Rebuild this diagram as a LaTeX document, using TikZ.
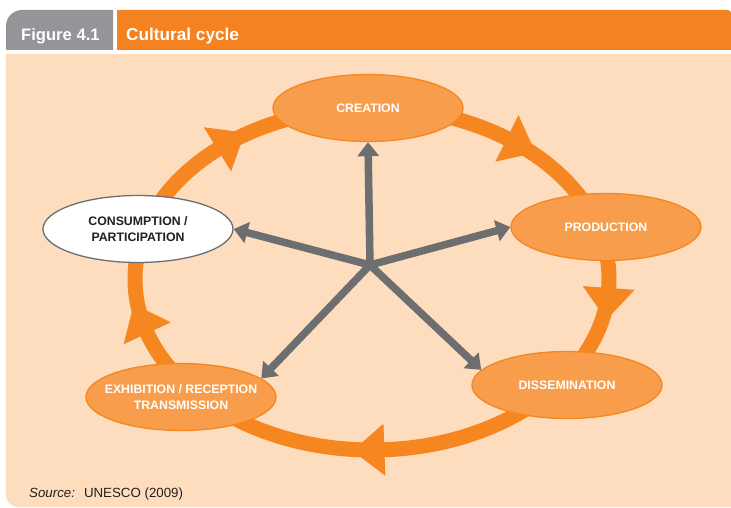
\documentclass[tikz,border=0pt]{standalone}
\usepackage{fontspec}
\setmainfont{Liberation Sans}
\usetikzlibrary{arrows.meta,shapes.geometric}
\definecolor{hdrorange}{RGB}{245,130,32}
\definecolor{hdrgray}{RGB}{147,149,152}
\definecolor{peach}{RGB}{253,221,190}
\definecolor{ringorange}{RGB}{245,134,32}
\definecolor{nodefill}{RGB}{248,157,76}
\definecolor{arrowgray}{RGB}{109,110,112}
\definecolor{txtdark}{RGB}{35,31,32}
\tikzset{
  cyclenode/.style={ellipse, minimum width=190pt, minimum height=67pt, inner xsep=-20pt, inner ysep=0pt,
    line width=1.3pt, draw=ringorange, fill=nodefill, text=white, align=center,
    font=\bfseries\fontsize{12.3}{15.5}\selectfont},
  usernode/.style={cyclenode, draw=arrowgray, fill=white, text=txtdark},
  garrow/.style={draw=arrowgray, line width=7.5pt, -{Triangle[length=14pt,width=21pt]}},
  hdrtext/.style={anchor=base west, inner sep=0pt, text=white, font=\bfseries\fontsize{17.2}{19}\selectfont}
}
\begin{document}
\begin{tikzpicture}[x=1pt,y=1pt]
\useasboundingbox (0,0) rectangle (731,-508);
% header
\fill[hdrgray] (6,-50) -- (6,-26) arc[start angle=180,end angle=90,radius=16] -- (113,-10) -- (113,-50) -- cycle;
\fill[hdrorange] (117,-50) -- (117,-10) -- (728,-10) arc[start angle=90,end angle=0,radius=3] -- (731,-50) -- cycle;
\node[hdrtext, font=\bfseries\fontsize{16.6}{19}\selectfont] (fig) at (21,-41) {Figure 4.1};
\node[hdrtext] (title) at (126,-41) {Cultural cycle};
% panel
\fill[peach] (6,-54) -- (731,-54) -- (731,-507) -- (18,-507) arc[start angle=270,end angle=180,radius=12] -- cycle;
% ring
\draw[ringorange, line width=15pt] (372,-279) ellipse [x radius=237, y radius=171];
\foreach \t in {130.7, 55.3, -3, -87, 198.5} {
  \pgfmathsetmacro\ang{atan2(-171*cos(\t), 237*sin(\t))}
  \begin{scope}[shift={({372+237*cos(\t)},{-279+171*sin(\t)})}, rotate=\ang]
    \fill[ringorange] (32,0) -- (0,26) -- (0,-26) -- cycle;
  \end{scope}
}
% nodes
\node[cyclenode] (cre) at (368,-108) {CREATION};
\node[cyclenode] (pro) at (606,-227) {PRODUCTION};
\node[cyclenode] (dis) at (567,-385) {DISSEMINATION};
\node[cyclenode] (exh) at (181,-397) {EXHIBITION / RECEPTION\\TRANSMISSION};
\node[usernode] (con) at (138,-229) {CONSUMPTION /\\PARTICIPATION};
% hub arrows
\coordinate (hub) at (370,-265);
\draw[garrow] (hub) -- (cre.south);
\draw[garrow] (hub) -- (con.east);
\draw[garrow] (hub) -- (pro.west);
\draw[garrow] (hub) -- (exh.13.5);
\draw[garrow] (hub) -- (dis.170);
% source
\node[anchor=base west, inner sep=0pt, text=txtdark, font=\fontsize{13.3}{16}\selectfont] (src) at (29,-497) {\textit{Source:}\hspace{9pt}UNESCO (2009)};
\end{tikzpicture}
\end{document}
